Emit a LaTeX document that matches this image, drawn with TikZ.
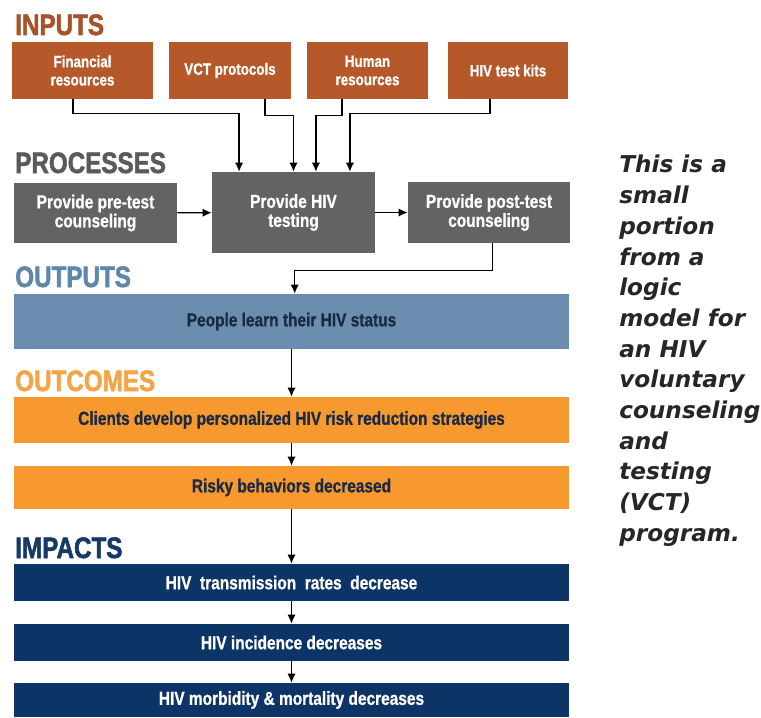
\documentclass[tikz,border=0pt]{standalone}
\usepackage{fontspec}
\setmainfont{Liberation Sans}
\newfontfamily\boxfont[FakeStretch=0.82,BoldFeatures={FakeBold=0.8}]{Liberation Sans}
\newfontfamily\headfont[FakeStretch=0.82,BoldFeatures={FakeBold=1.8}]{Liberation Sans}
\newfontfamily\notefont{DejaVu Sans}
\usetikzlibrary{arrows.meta,positioning}

\definecolor{inputfill}{RGB}{181,89,42}
\definecolor{inputhead}{RGB}{168,82,42}
\definecolor{procfill}{RGB}{99,99,99}
\definecolor{prochead}{RGB}{90,90,90}
\definecolor{outfill}{RGB}{107,142,176}
\definecolor{outhead}{RGB}{95,136,168}
\definecolor{outcfill}{RGB}{247,153,46}
\definecolor{outchead}{RGB}{244,165,72}
\definecolor{impfill}{RGB}{13,52,102}
\definecolor{imphead}{RGB}{21,58,103}
\definecolor{darktext}{RGB}{26,41,68}

\begin{document}
\begin{tikzpicture}[
    head/.style={
        anchor=base west, inner sep=0pt,
        font=\headfont\bfseries\fontsize{21}{24}\selectfont
    },
    inbox/.style={
        rectangle, fill=inputfill, text=white,
        minimum height=1.425cm, align=center, inner sep=1pt,
        font=\boxfont\bfseries\fontsize{11.6}{13}\selectfont
    },
    procbox/.style={
        rectangle, fill=procfill, text=white,
        minimum width=4.075cm, minimum height=1.5cm, align=center, inner sep=1pt,
        font=\boxfont\bfseries\fontsize{13.4}{13.5}\selectfont
    },
    widebox/.style={
        rectangle, minimum width=13.875cm, align=center, inner sep=1pt,
        font=\boxfont\bfseries\fontsize{13.4}{14}\selectfont
    },
    outbox/.style={widebox, fill=outfill, text=darktext, minimum height=1.375cm},
    outcbox/.style={widebox, fill=outcfill, text=darktext},
    impbox/.style={widebox, fill=impfill, text=white, minimum height=0.925cm},
    note/.style={
        anchor=north west, align=left, inner sep=0pt, text=black!85,
        font=\notefont\bfseries\itshape\fontsize{16.5}{21.84}\selectfont
    },
    link/.style={-{Latex[length=2.3mm,width=2.1mm]}, line width=1pt}
]

\useasboundingbox (0,0) rectangle (19.025,-17.925);

% Inputs
\node[head, text=inputhead] (hin) at (0.375,-0.875) {INPUTS};
\node[inbox, minimum width=3.525cm] (fin) at (2.0625,-1.7625) {Financial\\resources};
\node[inbox, minimum width=3.05cm] (vct) at (5.75,-1.7625) {VCT protocols};
\node[inbox, minimum width=3.025cm] (hum) at (9.1875,-1.7625) {Human\\resources};
\node[inbox, minimum width=3cm] (kits) at (12.7,-1.7625) {HIV test kits};

% Processes
\node[head, text=prochead] (hproc) at (0.375,-4.325) {PROCESSES};
\node[procbox] (pre) at (2.3875,-5.325) {Provide pre-test\\counseling};
\node[procbox, minimum height=2.025cm] (test) at (7.3375,-5.3125) {Provide HIV\\testing};
\node[procbox, minimum width=4.05cm, minimum height=1.525cm] (post) at (12.225,-5.3125) {Provide post-test\\counseling};

% Inputs into testing
\draw[link] ([xshift=-0.24cm]fin.south) -- ++(0,-0.35) -| ([xshift=-1.36cm]test.north);
\draw[link] ([xshift=0.875cm]vct.south) -- ++(0,-0.4) -| (test.north);
\draw[link] ([xshift=-0.64cm]hum.south) -- ++(0,-0.4) -| ([xshift=0.56cm]test.north);
\draw[link] ([xshift=-0.45cm]kits.south) -- ++(0,-0.35) -| ([xshift=1.41cm]test.north);

\draw[link] (pre) -- (test);
\draw[link] (test) -- (post);

% Outputs
\node[head, text=outhead] (hout) at (0.375,-7.175) {OUTPUTS};
\node[outbox] (status) at (7.2875,-8.0375) {People learn their HIV status};
\draw[link] ([xshift=0.08cm]post.south) -- ++(0,-0.675) -| ([xshift=0.08cm]status.north);

% Outcomes
\node[head, text=outchead] (houtc) at (0.375,-9.775) {OUTCOMES};
\node[outcbox, minimum height=1.15cm] (clients) at (7.2875,-10.5) {Clients develop personalized HIV risk reduction strategies};
\node[outcbox, minimum height=1.075cm] (risky) at (7.2875,-12.1875) {Risky behaviors decreased};

% Impacts
\node[head, text=imphead] (himp) at (0.375,-13.95) {IMPACTS};
\node[impbox] (trans) at (7.2875,-14.5625) {HIV\ \ transmission\ \ rates\ \ decrease};
\node[impbox] (incid) at (7.2875,-16.0625) {HIV incidence decreases};
\node[impbox, minimum height=0.85cm] (morb) at (7.2875,-17.5) {HIV morbidity \& mortality decreases};

\foreach \a/\b in {status/clients, clients/risky, risky/trans, trans/incid, incid/morb}
    \draw[link] (\a) -- (\b);

% Caption
\node[note] (caption) at (15.475,-3.875) {This is a\\small\\portion\\from a\\logic\\model for\\an HIV\\voluntary\\counseling\\and\\testing\\(VCT)\\program.};

\end{tikzpicture}
\end{document}
